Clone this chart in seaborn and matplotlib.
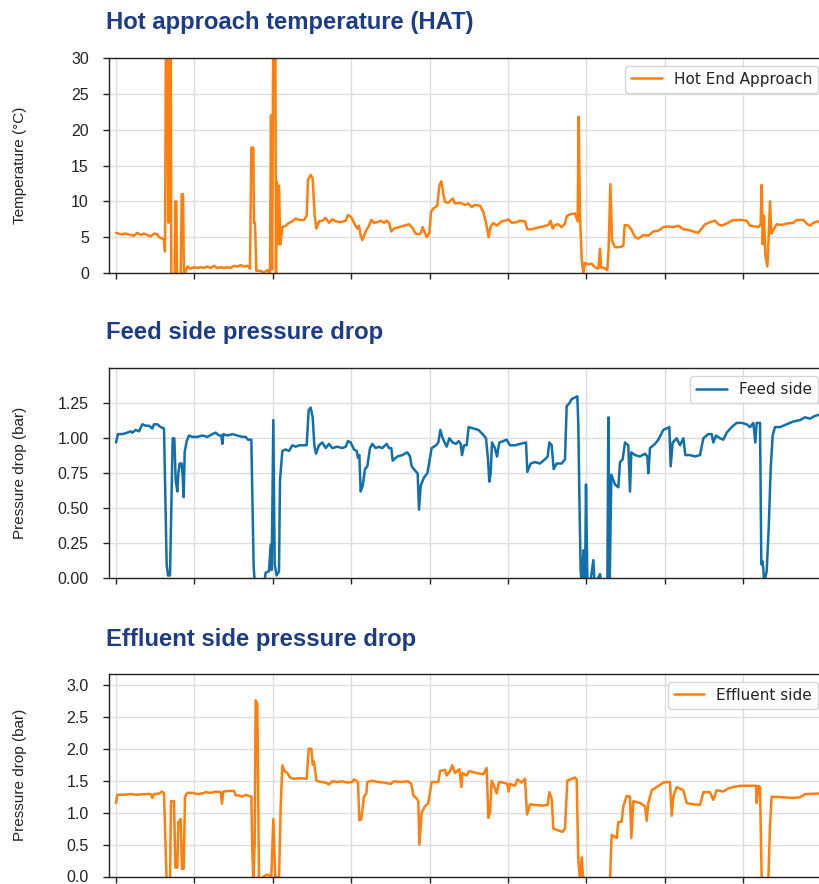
import numpy as np
import pandas as pd
import matplotlib
matplotlib.use("Agg")
import matplotlib.pyplot as plt
import seaborn as sns

# ---------------- data (time axis in arbitrary sample units) ----------------
hat_t = [0, 14, 29, 44, 54, 64, 74, 84, 94, 104, 114, 124, 129, 139, 144, 147, 150, 154, 157, 160,
         164, 166, 172, 176, 178, 181, 183, 194, 197, 201, 204, 209, 214, 224, 234, 244, 254, 264,
         274, 284, 294, 304, 314, 324, 334, 344, 354, 364, 374, 384, 394, 402, 406, 412, 414, 417,
         421, 434, 444, 454, 462, 465, 468, 472, 478, 480, 482, 485, 489, 493, 499, 509, 519, 529,
         539, 549, 564, 572, 576, 584, 590, 596, 601, 609, 619, 629, 639, 649, 659, 674, 689, 696,
         706, 716, 724, 729, 734, 739, 749, 759, 766, 774, 784, 794, 804, 812, 819, 826, 834, 849,
         864, 879, 889, 899, 909, 915, 920, 932, 940, 945, 952, 964, 970, 976, 982, 987, 997, 1010,
         1017, 1032, 1047, 1057, 1067, 1077, 1092, 1102, 1110, 1118, 1124, 1132, 1142, 1157, 1167,
         1177, 1187, 1202, 1212, 1227, 1234, 1247, 1262, 1282, 1297, 1304, 1310, 1317, 1327, 1337,
         1347, 1352, 1362, 1377, 1385, 1388, 1392, 1394, 1397, 1402, 1407, 1417, 1427, 1437, 1447,
         1452, 1455, 1464, 1474, 1478, 1483, 1488, 1497, 1512, 1522, 1526, 1537, 1547, 1557, 1567,
         1582, 1597, 1612, 1627, 1642, 1657, 1672, 1687, 1702, 1717, 1732, 1747, 1757, 1767, 1782,
         1797, 1807, 1817, 1832, 1847, 1862, 1877, 1892, 1902, 1917, 1927, 1934, 1937, 1940, 1944,
         1948, 1954, 1958, 1962, 1966, 1972, 1982, 1997, 2012, 2032, 2042, 2062, 2072, 2082, 2092,
         2107, 2135]
hat_v = [5.6, 5.4, 5.5, 5.3, 5.2, 5.6, 5.3, 5.5, 5.3, 5.1, 5.5, 5.4, 5.0, 4.8, 4.6, 3.0, 35, 35, 7.0, 35,
         35, -0.5, -0.5, -0.5, 10.0, 10.0, -0.5, -0.5, 11.0, 11.0, -0.5, 0.3, 0.9, 0.6, 0.8, 0.7, 0.8, 0.7,
         0.9, 0.7, 1.0, 0.7, 0.8, 0.7, 0.8, 0.7, 1.0, 0.9, 1.1, 0.9, 1.0, 0.6, 17.5, 17.5, 7.0, 7.0,
         0.3, 0.3, 0.0, 0.4, 0.0, 22.0, 0.5, 35, 35, 0.0, 12.8, 4.0, 12.2, 4.0, 6.4, 6.6, 7.0, 7.2,
         7.6, 7.4, 7.4, 8.0, 13.0, 13.7, 13.2, 8.0, 6.2, 7.2, 7.3, 7.7, 7.0, 7.5, 7.2, 7.1, 7.3, 8.1,
         7.8, 6.8, 6.2, 6.6, 5.2, 4.6, 5.8, 6.6, 7.4, 7.0, 7.1, 7.3, 7.0, 7.3, 7.0, 5.8, 6.2, 6.4,
         6.6, 6.8, 6.3, 5.5, 5.4, 5.6, 6.4, 5.0, 5.6, 8.5, 9.0, 9.4, 12.2, 12.8, 11.0, 9.9, 9.8, 10.4,
         9.7, 9.8, 9.5, 9.7, 9.2, 9.5, 9.4, 8.5, 7.0, 5.0, 6.5, 7.0, 6.6, 7.2, 7.3,
         7.5, 7.0, 7.1, 7.3, 7.2, 6.1, 6.1, 6.3, 6.5, 6.7, 7.3, 6.2, 6.7, 6.8, 6.4,
         6.9, 7.9, 8.2, 8.3, 7.2, 21.8, 8.0, 5.5, 2.0, 0.0, 1.4, 1.2, 1.3, 0.8, 0.6,
         3.4, 0.8, 0.7, 0.4, 3.5, 12.4, 4.5, 3.6, 3.6, 3.8, 6.7, 6.6, 6.0, 5.0, 4.8,
         5.3, 5.2, 5.8, 5.9, 6.4, 6.5, 6.4, 6.6, 6.1, 6.0, 5.8, 5.6, 6.2, 6.8, 7.1,
         7.3, 6.8, 6.6, 6.9, 7.3, 7.4, 7.4, 7.3, 6.6, 6.5, 6.4, 6.8, 12.3, 4.0, 8.0,
         2.5, 0.9, 5.0, 10.0, 5.5, 6.0, 6.8, 6.7, 6.9, 7.0, 7.4, 7.4, 6.9, 6.6, 7.0,
         7.2, 7.2]

feed_t = [0, 6, 19, 34, 44, 49, 59, 69, 79, 89, 99, 109, 114, 124, 134, 144, 148, 152, 156, 162, 166,
          170, 175, 179, 184, 187, 191, 197, 200, 203, 206, 212, 219, 229, 244, 259, 274, 289, 299,
          309, 316, 319, 322, 334, 349, 364, 379, 389, 396, 406, 409, 413, 417, 444, 449, 459, 464,
          467, 472, 476, 482, 489, 492, 499, 509, 519, 529, 539, 549, 564, 572, 578, 584, 590, 595,
          600, 609, 619, 629, 639, 649, 664, 679, 689, 696, 704, 714, 722, 726, 730, 734, 740, 747,
          754, 762, 769, 779, 789, 799, 812, 819, 826, 830, 844, 859, 874, 882, 887, 897, 905, 909,
          914, 924, 934, 947, 960, 967, 973, 980, 992, 1000, 1010, 1020, 1028, 1034, 1038, 1044,
          1052, 1058, 1072, 1087, 1100, 1110, 1116, 1120, 1124, 1128, 1137, 1143, 1150, 1162, 1172,
          1182, 1197, 1212, 1230, 1234, 1244, 1257, 1272, 1287, 1295, 1300, 1307, 1313, 1322, 1337,
          1347, 1352, 1360, 1367, 1384, 1387, 1390, 1394, 1398, 1402, 1407, 1410, 1414, 1422, 1432,
          1436, 1452, 1457, 1474, 1477, 1481, 1486, 1497, 1507, 1512, 1520, 1527, 1537, 1542, 1546,
          1557, 1572, 1587, 1594, 1597, 1602, 1617, 1627, 1642, 1660, 1664, 1670, 1682, 1692, 1702,
          1708, 1722, 1737, 1752, 1762, 1777, 1787, 1792, 1800, 1812, 1822, 1832, 1847, 1862, 1877,
          1892, 1902, 1912, 1918, 1922, 1932, 1936, 1940, 1945, 1952, 1958, 1964, 1970, 1977, 1992,
          2012, 2032, 2052, 2067, 2082, 2097, 2112, 2135]
feed_v = [0.97, 1.03, 1.03, 1.04, 1.05, 1.04, 1.06, 1.05, 1.10, 1.09, 1.09, 1.07, 1.10, 1.10, 1.08, 1.07,
          0.60, 0.10, 0.02, 0.02, 0.50, 1.00, 1.00, 0.70, 0.62, 0.75, 0.82, 0.82, 0.73, 0.58, 0.90,
          0.98, 1.02, 1.01, 1.01, 1.02, 1.01, 1.03, 1.04, 1.02, 1.02, 0.96, 1.03, 1.02, 1.03, 1.02,
          1.01, 1.01, 0.99, 0.99, 0.60, 0.08, -0.05, -0.05, 0.04, 0.05, 0.24, 0.06, 1.13, 0.10, 0.02,
          0.05, 0.70, 0.91, 0.92, 0.91, 0.95, 0.94, 0.95, 0.95, 0.95, 1.20, 1.22, 1.15, 0.95, 0.89,
          0.95, 0.97, 0.93, 0.96, 0.93, 0.94, 0.93, 0.94, 0.98, 0.97, 0.92, 0.91, 0.86, 0.88, 0.62,
          0.66, 0.78, 0.80, 0.93, 0.96, 0.93, 0.94, 0.93, 0.96, 0.93, 0.93, 0.84, 0.87, 0.88, 0.90,
          0.87, 0.80, 0.77, 0.75, 0.49, 0.66, 0.72, 0.75, 0.93, 0.95, 0.97, 1.06, 1.00, 0.94, 1.00,
          0.97, 0.96, 0.98, 0.96, 0.88, 0.95, 0.95, 1.08, 1.07, 1.06, 1.03, 1.00, 0.85, 0.69, 0.75,
          0.97, 0.93, 0.87, 0.97, 0.98, 0.99, 0.95, 0.95, 0.96, 0.97, 0.76, 0.82, 0.83, 0.82, 0.85,
          0.87, 0.97, 0.95, 0.78, 0.82, 0.82, 0.85, 1.23, 1.25, 1.28, 1.30, 1.10, 0.60, 0.05, -0.05,
          0.20, -0.05, 0.67, 0.00, -0.05, 0.13, -0.05, 0.03, -0.05, -0.05, 1.15, -0.05, 0.74, 0.67,
          0.65, 0.83, 0.85, 0.97, 0.95, 0.62, 0.90, 0.88, 0.87, 0.89, 0.87, 0.75, 0.93, 0.96, 0.99,
          1.06, 1.08, 0.80, 0.97, 1.00, 0.95, 1.00, 0.88, 0.88, 0.87, 0.88, 1.00, 1.03, 1.03, 0.97,
          1.02, 1.00, 0.99, 1.04, 1.08, 1.11, 1.11, 1.10, 1.08, 1.11, 0.97, 1.11, 1.11, 0.10, 0.12,
          -0.03, 0.05, 0.35, 0.78, 1.02, 1.08, 1.08, 1.10, 1.12, 1.13, 1.15, 1.14, 1.16, 1.17, 1.18]

eff_t = [0, 4, 24, 44, 64, 84, 104, 109, 114, 129, 139, 144, 148, 152, 162, 165, 174, 178, 184, 187, 194,
         198, 203, 207, 214, 229, 244, 259, 269, 284, 299, 314, 318, 322, 339, 354, 359, 369, 379,
         389, 399, 406, 409, 412, 416, 419, 424, 429, 444, 454, 466, 472, 478, 489, 494, 499, 506,
         514, 522, 534, 554, 572, 578, 586, 590, 594, 601, 614, 629, 639, 649, 664, 679, 694, 709,
         714, 726, 730, 736, 744, 751, 754, 769, 784, 804, 824, 834, 854, 876, 886, 892, 902, 907,
         910, 917, 927, 937, 947, 967, 972, 987, 992, 1002, 1009, 1017, 1030, 1036, 1040, 1052, 1059,
         1082, 1102, 1112, 1117, 1122, 1127, 1135, 1142, 1149, 1162, 1174, 1178, 1182, 1197, 1204,
         1217, 1227, 1233, 1242, 1257, 1277, 1295, 1300, 1307, 1312, 1327, 1340, 1347, 1354, 1377,
         1382, 1387, 1392, 1397, 1402, 1482, 1487, 1502, 1507, 1517, 1522, 1532, 1542, 1546, 1552,
         1572, 1587, 1592, 1597, 1607, 1622, 1642, 1662, 1667, 1672, 1682, 1702, 1712, 1732, 1752,
         1762, 1782, 1792, 1802, 1822, 1837, 1852, 1872, 1902, 1920, 1922, 1927, 1932, 1937, 1957,
         1962, 1967, 2002, 2032, 2052, 2067, 2112, 2135]
eff_v = [1.15, 1.28, 1.28, 1.29, 1.28, 1.29, 1.29, 1.23, 1.29, 1.30, 1.33, 1.30, 0.60, -0.10, -0.10, 1.18,
         1.18, 0.14, 0.14, 0.85, 0.90, 0.12, 0.12, 1.25, 1.31, 1.31, 1.29, 1.30, 1.32, 1.31, 1.33,
         1.32, 1.14, 1.33, 1.34, 1.34, 1.27, 1.27, 1.25, 1.28, 1.26, 1.25, 0.40, -0.05, 0.50, 2.76,
         2.70, -0.05, 0.00, 0.03, 0.00, 0.90, 0.00, -0.05, 1.10, 1.74, 1.65, 1.62, 1.55, 1.53, 1.54,
         1.53, 2.00, 2.00, 1.75, 1.80, 1.50, 1.48, 1.47, 1.44, 1.49, 1.48, 1.49, 1.47, 1.48, 1.52,
         1.48, 0.88, 0.90, 1.25, 1.30, 1.48, 1.50, 1.48, 1.47, 1.45, 1.49, 1.48, 1.49, 1.45, 1.27,
         1.22, 1.18, 0.50, 1.00, 1.10, 1.15, 1.48, 1.48, 1.65, 1.67, 1.58, 1.65, 1.74, 1.62, 1.68,
         1.40, 1.62, 1.58, 1.65, 1.62, 1.60, 1.70, 0.92, 1.00, 1.50, 1.40, 1.30, 1.48, 1.47, 1.45,
         1.33, 1.45, 1.42, 1.52, 1.47, 1.53, 0.97, 1.13, 1.12, 1.11, 1.12, 1.32, 1.22, 0.75, 0.72,
         0.70, 0.75, 1.50, 1.55, 1.52, 0.25, -0.05, 0.30, -0.05, -0.05, 0.65, 0.60, 0.85, 0.86, 1.10,
         1.26, 1.25, 0.60, 1.18, 1.15, 1.10, 0.87, 1.15, 1.35, 1.40, 1.47, 1.48, 0.95, 1.25, 1.40,
         1.35, 1.15, 1.13, 1.12, 1.32, 1.32, 1.20, 1.35, 1.33, 1.38, 1.40, 1.42, 1.42, 1.42, 1.15,
         1.42, 1.40, -0.05, -0.05, 0.80, 1.25, 1.24, 1.23, 1.24, 1.29, 1.30, 1.28]

titles = ["Hot approach temperature (HAT)", "Feed side pressure drop", "Effluent side pressure drop"]
ylabels = ["Temperature (°C)", "Pressure drop (bar)", "Pressure drop (bar)"]
legends = ["Hot End Approach", "Feed side", "Effluent side"]
yticks = [[0, 5, 10, 15, 20, 25, 30],
          [0.0, 0.25, 0.5, 0.75, 1.0, 1.25],
          [0.0, 0.5, 1.0, 1.5, 2.0, 2.5, 3.0]]
ytick_labels = [["0", "5", "10", "15", "20", "25", "30"],
                ["0.00", "0.25", "0.50", "0.75", "1.00", "1.25"],
                ["0.0", "0.5", "1.0", "1.5", "2.0", "2.5", "3.0"]]

# ---------------- style ----------------
sns.set_theme(style="whitegrid")
plt.rcParams["font.family"] = ["Liberation Sans", "DejaVu Sans"]

W, H = 820, 884
fig = plt.figure(figsize=(W / 100, H / 100), dpi=100)

orange = "#ff7f0e"
blue = "#1170aa"
title_color = "#1c3d86"

series = [(hat_t, hat_v, orange), (feed_t, feed_v, blue), (eff_t, eff_v, orange)]
ylims = [(0, 30), (0, 1.5), (0, 3.17)]
# axes boxes in pixels: (top, bottom)
boxes = [(58, 273), (368.3, 578.3), (674, 876.5)]
title_base = [28.7, 339.5, 646]
x_left, x_right = 109, 826

for i in range(3):
    top, bot = boxes[i]
    ax = fig.add_axes([x_left / W, 1 - bot / H, (x_right - x_left) / W, (bot - top) / H])
    t, v, c = series[i]
    df = pd.DataFrame({"t": t, "v": v})
    sns.lineplot(data=df, x="t", y="v", ax=ax, color=c, linewidth=1.8,
                 label=legends[i], estimator=None, sort=False)
    ax.set_xlim(-21, 2130)
    ax.set_ylim(*ylims[i])
    ax.set_xticks(np.arange(0, 2130, 235.2))
    ax.set_xticklabels([])
    ax.set_yticks(yticks[i])
    ax.set_yticklabels(ytick_labels[i], fontsize=11.5, color="#222222")
    ax.set_xlabel("")
    ax.set_ylabel(ylabels[i], fontsize=11, color="#222222")
    ax.yaxis.set_label_coords(-0.114, 0.5)
    ax.set_facecolor("white")
    ax.grid(True, color="#dddddd", linewidth=1.0)
    for s in ["left", "bottom", "top"]:
        ax.spines[s].set_visible(True)
        ax.spines[s].set_color("#222222")
        ax.spines[s].set_linewidth(1.0)
    ax.spines["right"].set_visible(False)
    ax.tick_params(axis="both", which="major", direction="out", length=4.5, width=1.0,
                   color="#222222", bottom=True, left=True)
    ax.tick_params(axis="y", pad=10)
    leg = ax.legend(loc="upper right", prop={"family": ["DejaVu Sans"], "size": 11},
                    frameon=True, fancybox=True, framealpha=0.8, edgecolor="#cccccc",
                    borderaxespad=0.5)
    for txt in leg.get_texts():
        txt.set_color("#222222")
        txt.set_fontfamily(["DejaVu Sans"])
    fig.text(106 / W, 1 - title_base[i] / H, titles[i], fontsize=17.2, fontweight="bold",
             color=title_color, ha="left", va="baseline")

fig.savefig("out.png", dpi=100)
